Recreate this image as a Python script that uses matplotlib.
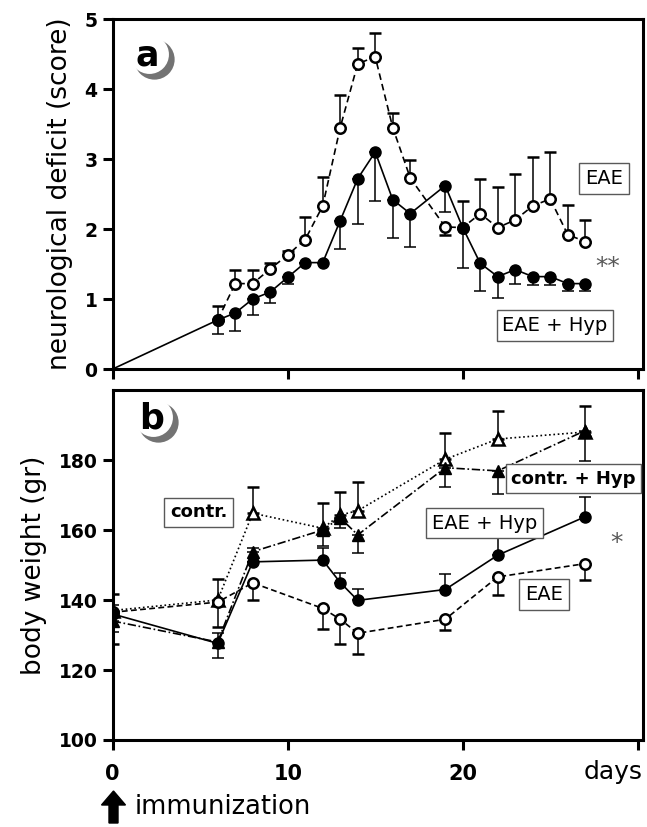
#!/usr/bin/env python3
"""
Two-panel EAE time course: (a) neurological deficit score, (b) body weight.
"""
import matplotlib
matplotlib.use('Agg')
import matplotlib.pyplot as plt
from matplotlib.patches import FancyArrow

# ---- panel a: neurological deficit (score) ----
days_hyp_a = [0, 6, 7, 8, 9, 10, 11, 12, 13, 14, 15, 16, 17, 19, 20, 21, 22, 23, 24, 25, 26, 27]
score_hyp_a = [0, 0.70, 0.80, 1.00, 1.10, 1.31, 1.52, 1.52, 2.12, 2.72, 3.10, 2.42, 2.22,
               2.62, 2.02, 1.51, 1.32, 1.42, 1.32, 1.32, 1.22, 1.22]
err_lo_hyp_a = [0, 0.20, 0.25, 0.23, 0.15, 0.10, 0.0, 0.0, 0.40, 0.65, 0.70, 0.55, 0.48,
                0.37, 0.58, 0.40, 0.30, 0.20, 0.12, 0.12, 0.10, 0.10]

days_eae_a = [6, 7, 8, 9, 10, 11, 12, 13, 14, 15, 16, 17, 19, 20, 21, 22, 23, 24, 25, 26, 27]
score_eae_a = [0.70, 1.22, 1.22, 1.43, 1.63, 1.85, 2.33, 3.45, 4.36, 4.46, 3.45, 2.73,
               2.03, 2.02, 2.22, 2.02, 2.13, 2.33, 2.43, 1.92, 1.82]
err_hi_eae_a = [0.20, 0.20, 0.20, 0.09, 0.05, 0.32, 0.42, 0.46, 0.23, 0.34, 0.21, 0.25,
                0.0, 0.38, 0.50, 0.58, 0.65, 0.70, 0.67, 0.42, 0.31]
err_lo_eae_a = [0, 0, 0, 0, 0, 0, 0, 0, 0, 0, 0, 0,
                0.12, 0, 0, 0, 0, 0, 0, 0, 0]

# ---- panel b: body weight (gr) ----
days_b = [0, 6, 8, 12, 13, 14, 19, 22, 27]
wt_contr = [137.0, 140.0, 164.8, 160.5, 164.3, 165.5, 180.2, 186.0, 188.0]
err_hi_contr = [4.8, 6.1, 7.4, 7.2, 6.7, 8.3, 7.4, 7.9, 7.5]
wt_contr_hyp = [134.0, 128.0, 153.8, 160.0, 163.5, 158.6, 177.8, 176.9, 188.4]
err_lo_contr_hyp = [3.0, 4.5, 3.0, 4.5, 3.0, 5.3, 5.6, 6.6, 8.7]
wt_eae_hyp = [136.0, 127.6, 150.9, 151.4, 145.0, 139.9, 143.0, 152.8, 163.8]
err_hi_eae_hyp = [2.5, 3.0, 4.0, 3.4, 2.8, 3.3, 4.3, 5.0, 5.6]
wt_eae = [136.5, 139.4, 144.9, 137.6, 134.5, 130.5, 134.5, 146.6, 150.4]
err_lo_eae = [9.0, 7.0, 5.0, 6.0, 7.0, 6.0, 3.0, 5.3, 4.8]

xticks = [0, 10, 20, 30]
xtick_labels = ['0', '10', '20', '']
yticks_a = [0, 1, 2, 3, 4, 5]
yticks_b = [100, 120, 140, 160, 180]

LW_AX = 2.2
LW = 1.2
EB = dict(ecolor='black', elinewidth=1.1, capsize=4, capthick=1.1)


def zeros(n):
    return [0] * n


def style_axis(ax, ylim, yticks):
    ax.set_xlim(0, 30.3)
    ax.set_ylim(*ylim)
    ax.set_xticks(xticks)
    ax.set_yticks(yticks)
    for s in ax.spines.values():
        s.set_linewidth(LW_AX)
    ax.tick_params(direction='out', length=7, width=LW_AX, labelsize=13.5, pad=4)
    for lab in ax.get_yticklabels():
        lab.set_fontweight('bold')


def panel_tag(ax, letter, x, y):
    # moon-like crescent: grey disc, white disc shifted up-left, letter on top
    ax.plot([x + 0.0123], [y - 0.012], marker='o', ms=29, mfc='0.45', mec='none',
            transform=ax.transAxes, zorder=7, clip_on=False)
    ax.plot([x + 0.0028], [y + 0.003], marker='o', ms=28, mfc='white', mec='none',
            transform=ax.transAxes, zorder=8, clip_on=False)
    ax.text(x, y, letter, transform=ax.transAxes, fontsize=25, fontweight='bold',
            ha='center', va='center', zorder=9)


def box(ax, x, y, s, weight='normal', size=14):
    ax.text(x, y, s, fontsize=size, fontweight=weight, ha='center', va='center',
            bbox=dict(boxstyle='square,pad=0.3', fc='white', ec='0.35', lw=1.0),
            zorder=6)


def main():
    fig = plt.figure(figsize=(6.47, 8.27), dpi=100)
    ax_a = fig.add_axes([0.1742, 0.5538, 0.8196, 0.4232])
    ax_b = fig.add_axes([0.1742, 0.1052, 0.8196, 0.4232])

    # ── panel a ──
    ax_a.errorbar(days_eae_a, score_eae_a, yerr=[err_lo_eae_a, err_hi_eae_a],
                  color='black', lw=LW, dashes=(4, 2.5), marker='o', ms=7.5,
                  mfc='white', mec='black', mew=1.8, zorder=3, **EB)
    ax_a.errorbar(days_hyp_a, score_hyp_a, yerr=[err_lo_hyp_a, zeros(len(days_hyp_a))],
                  color='black', lw=LW, ls='-', marker='o', ms=8, mfc='black',
                  mec='black', markevery=list(range(1, len(days_hyp_a))), zorder=4, **EB)
    style_axis(ax_a, (0, 5), yticks_a)
    ax_a.set_xticklabels([])
    ax_a.set_ylabel('neurological deficit (score)', fontsize=19, labelpad=8)
    box(ax_a, 28.07, 2.72, 'EAE')
    box(ax_a, 25.27, 0.62, 'EAE + Hyp')
    ax_a.text(28.3, 1.46, '**', fontsize=18, color='0.35', ha='center', va='center')
    panel_tag(ax_a, 'a', 0.066, 0.897)

    # ── panel b ──
    n = len(days_b)
    ax_b.errorbar(days_b, wt_contr, yerr=[zeros(n), err_hi_contr], color='black',
                  lw=LW, dashes=(1, 1.6), marker='^', ms=8, mfc='white', mec='black',
                  mew=1.8, zorder=3, **EB)
    ax_b.errorbar(days_b, wt_contr_hyp, yerr=[err_lo_contr_hyp, zeros(n)], color='black',
                  lw=LW, dashes=(5, 1.6, 1, 1.6), marker='^', ms=8, mfc='black',
                  mec='black', zorder=4, **EB)
    ax_b.errorbar(days_b, wt_eae, yerr=[err_lo_eae, zeros(n)], color='black',
                  lw=LW, dashes=(3.5, 2), marker='o', ms=7.5, mfc='white', mec='black',
                  mew=1.8, zorder=3, **EB)
    ax_b.errorbar(days_b, wt_eae_hyp, yerr=[zeros(n), err_hi_eae_hyp], color='black',
                  lw=LW, ls='-', marker='o', ms=8, mfc='black', mec='black',
                  zorder=4, **EB)
    style_axis(ax_b, (100, 200), yticks_b)
    ax_b.set_xticklabels(xtick_labels, fontweight='bold', fontsize=15)
    ax_b.tick_params(axis='x', pad=10)
    ax_b.set_ylabel('body weight (gr)', fontsize=19, labelpad=8)
    box(ax_b, 4.9, 165.1, 'contr.', weight='bold', size=13)
    box(ax_b, 26.34, 174.6, 'contr. + Hyp', weight='bold', size=13)
    box(ax_b, 21.27, 162.0, 'EAE + Hyp', size=14)
    box(ax_b, 24.65, 141.6, 'EAE', size=14)
    ax_b.text(28.8, 156.3, '*', fontsize=18, color='0.35', ha='center', va='center')
    panel_tag(ax_b, 'b', 0.073, 0.92)

    # x axis extras
    fig.text(613.5 / 647, 1 - 772 / 827, 'days', fontsize=18, ha='center', va='center')
    fig.add_artist(FancyArrow(113.5 / 647, 1 - 823 / 827, 0, 32 / 827,
                              width=9 / 647, head_width=24 / 647, head_length=14 / 827,
                              length_includes_head=True, color='black',
                              transform=fig.transFigure))
    fig.text(135 / 647, 1 - 807 / 827, 'immunization', fontsize=18.5, ha='left',
             va='center')

    fig.savefig('out.png', dpi=100)
    plt.close(fig)


if __name__ == "__main__":
    main()
